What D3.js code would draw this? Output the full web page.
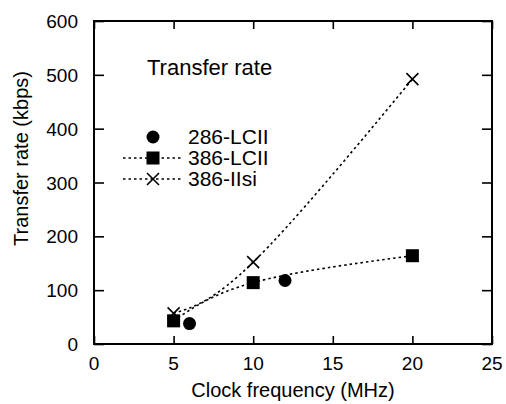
<!DOCTYPE html>
<html>
<head>
<meta charset="utf-8">
<script src="https://cdn.jsdelivr.net/npm/d3@7"></script>
<style>
  body { margin: 0; background: #fff; }
  text { font-family: "Liberation Sans", Arial, Helvetica, sans-serif; fill: #000; }
</style>
</head>
<body>
<svg id="chart" width="506" height="404"></svg>
<script>
const xTicks = [0, 5, 10, 15, 20, 25];
const yTicks = [0, 100, 200, 300, 400, 500, 600];
const series = ['286-LCII', '386-LCII', '386-IIsi'];
const lc286 = [[6, 38], [12, 118]];
const lc386 = [[5, 43], [10, 114], [20, 164]];
const iisi386 = [[5, 57], [10, 152], [20, 492]];

const margin = { top: 21, right: 14, bottom: 60, left: 94 };
const width = 506 - margin.left - margin.right;
const height = 404 - margin.top - margin.bottom;

const svg = d3.select('#chart')
  .append('g')
  .attr('transform', `translate(${margin.left},${margin.top})`);

const x = d3.scaleLinear().domain([0, 25]).range([0, width]);
const y = d3.scaleLinear().domain([0, 600]).range([height, 0]);

// minor + major ticks, pointing inward on all four sides
const drawTicks = (axisFn, scale, minor, major, tx, minLen, majLen) => {
  const g = svg.append('g').attr('transform', tx);
  g.call(axisFn(scale).tickValues(minor).tickSize(-minLen).tickFormat(''));
  g.call(axisFn(scale).tickValues(major).tickSize(-majLen).tickFormat(''));
  g.selectAll('.domain').remove();
  g.selectAll('line').attr('stroke', '#000').attr('stroke-width', 1.6);
  return g;
};
const xMinor = d3.range(0, 26, 1);
const yMinor = d3.range(0, 601, 20);
drawTicks(d3.axisBottom, x, xMinor, xTicks, `translate(0,${height})`, 5, 8);
drawTicks(d3.axisTop, x, xMinor, xTicks, 'translate(0,0)', 5, 8);
drawTicks(d3.axisLeft, y, yMinor, yTicks, 'translate(0,0)', 6, 10);
drawTicks(d3.axisRight, y, yMinor, yTicks, `translate(${width},0)`, 6, 10);

svg.append('rect')
  .attr('width', width).attr('height', height)
  .attr('fill', 'none').attr('stroke', '#000').attr('stroke-width', 2);

// tick labels
svg.selectAll('.xl').data(xTicks).enter().append('text')
  .attr('x', d => x(d)).attr('y', height + 26)
  .attr('text-anchor', 'middle').style('font-size', '19px')
  .text(d => d);
svg.selectAll('.yl').data(yTicks).enter().append('text')
  .attr('x', -16).attr('y', d => y(d) + 7)
  .attr('text-anchor', 'end').style('font-size', '19px')
  .text(d => d);

svg.append('text')
  .attr('x', width / 2).attr('y', height + 53)
  .attr('text-anchor', 'middle').style('font-size', '20px')
  .text('Clock frequency (MHz)');
svg.append('text')
  .attr('transform', `translate(-66,${height / 2 - 24}) rotate(-90)`)
  .attr('text-anchor', 'middle').style('font-size', '20px')
  .text('Transfer rate (kbps)');

// lines
const line = d3.line().x(d => x(d[0])).y(d => y(d[1])).curve(d3.curveNatural);
[lc386, iisi386].forEach(data => {
  svg.append('path').datum(data)
    .attr('d', line)
    .attr('fill', 'none').attr('stroke', '#000')
    .attr('stroke-width', 1.6).attr('stroke-dasharray', '2.5,3');
});

// markers
const drawMarker = (g, type, cx, cy) => {
  if (type === 'circle') {
    g.append('circle').attr('cx', cx).attr('cy', cy).attr('r', 6.5).attr('fill', '#000');
  } else if (type === 'square') {
    g.append('rect').attr('x', cx - 6.5).attr('y', cy - 6.5)
      .attr('width', 13).attr('height', 13).attr('fill', '#000');
  } else {
    const s = 6;
    g.append('path')
      .attr('d', `M${cx - s},${cy - s}L${cx + s},${cy + s}M${cx - s},${cy + s}L${cx + s},${cy - s}`)
      .attr('stroke', '#000').attr('stroke-width', 1.6);
  }
};
lc286.forEach(d => drawMarker(svg, 'circle', x(d[0]), y(d[1])));
lc386.forEach(d => drawMarker(svg, 'square', x(d[0]), y(d[1])));
iisi386.forEach(d => drawMarker(svg, 'cross', x(d[0]), y(d[1])));

// legend
svg.append('text')
  .attr('x', 53).attr('y', 54).style('font-size', '22px')
  .text('Transfer rate');
const types = ['circle', 'square', 'cross'];
series.forEach((s, i) => {
  const ly = 116 + i * 21;
  if (i > 0) {
    svg.append('line')
      .attr('x1', 29).attr('x2', 89).attr('y1', ly).attr('y2', ly)
      .attr('stroke', '#000').attr('stroke-width', 1.4).attr('stroke-dasharray', '2.5,3');
  }
  drawMarker(svg, types[i], 59, ly);
  svg.append('text')
    .attr('x', 94).attr('y', ly + 7).style('font-size', '21px')
    .text(s);
});
</script>
</body>
</html>
